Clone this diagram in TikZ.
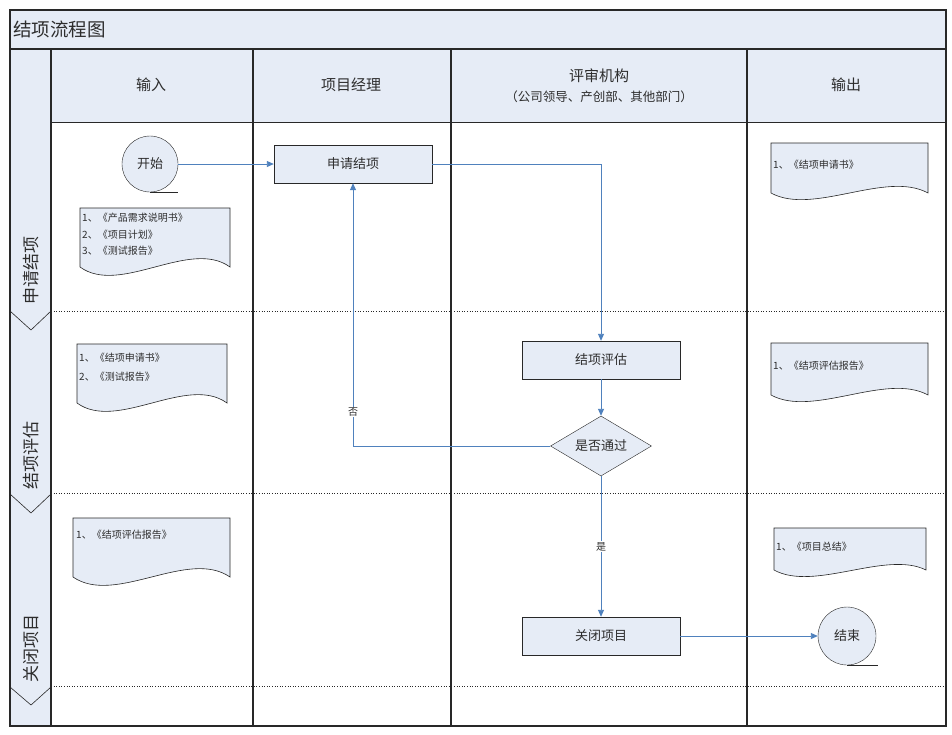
\documentclass[tikz,border=0pt]{standalone}
\usepackage{fontspec}
\setmainfont{Noto Sans CJK SC}
\usetikzlibrary{shapes.geometric,arrows.meta}
\definecolor{lb}{RGB}{230,236,246}
\definecolor{ab}{RGB}{79,129,189}
\definecolor{tx}{RGB}{45,45,45}
\definecolor{ln}{RGB}{40,40,40}
\begin{document}
\begin{tikzpicture}[x=1pt,y=-1pt,
  box/.style={draw=ln, fill=lb, minimum width=158pt, minimum height=38pt, inner sep=0, font=\fontsize{13}{15}\selectfont, text=tx},
  term/.style={circle, draw=ln, fill=lb, minimum size=56pt, inner sep=0, font=\fontsize{13}{15}\selectfont, text=tx},
  dec/.style={diamond, draw=ln, fill=lb, minimum width=101pt, minimum height=60pt, inner sep=0, aspect=1.7, font=\fontsize{13}{15}\selectfont, text=tx},
  arr/.style={draw=ab, line width=0.9pt, -{Triangle[length=7pt,width=6pt]}},
  docshape/.style={draw=ln, fill=lb, line width=0.6pt},
  doctext/.style={anchor=north west, align=left, font=\fontsize{10}{17.5}\selectfont, inner sep=0, text=tx},
  hdr/.style={font=\fontsize{15}{18}\selectfont, text=tx},
  lane/.style={rotate=90, font=\fontsize{17}{17}\selectfont, text=tx},
  frame/.style={draw=ln, line width=1.1pt},
  sep/.style={draw=ln, line width=0.6pt, dotted},
  lbl/.style={fill=white, inner sep=1pt, font=\fontsize{10}{12}\selectfont, text=tx}]
\useasboundingbox (0,0) rectangle (952,734);
% backgrounds
\fill[white] (10,10) rectangle (946,726);
\fill[lb] (10,10) rectangle (946,49);
\fill[lb] (51,49) rectangle (946,122);
\fill[lb] (10,49) rectangle (51,726);
% row separators
\draw[sep] (51,311) -- (946,311);
\draw[sep] (51,493) -- (946,493);
\draw[sep] (51,686) -- (946,686);
% frame lines
\draw[frame] (10,10) rectangle (946,726);
\draw[frame] (10,49) -- (946,49);
\draw[draw=ln, line width=0.8pt] (51,122) -- (946,122);
\foreach \x in {51,253,451,747} \draw[frame] (\x,49) -- (\x,726);
% chevrons
\draw[ln, line width=0.6pt] (10,311) -- (31,330) -- (51,311);
\draw[ln, line width=0.6pt] (10,494) -- (31,513) -- (51,494);
\draw[ln, line width=0.6pt] (10,687) -- (31,705) -- (51,687);
% title and headers
\node[anchor=west, font=\fontsize{18.5}{19}\selectfont, text=tx, inner sep=0] (title) at (13,29) {结项流程图};
\node[hdr] (h1) at (151,85) {输入};
\node[hdr] (h2) at (351,85) {项目经理};
\node[hdr] (h3) at (599,76) {评审机构};
\node[font=\fontsize{12.5}{14}\selectfont, text=tx] (h3b) at (599,97) {（公司领导、产创部、其他部门）};
\node[hdr] (h4) at (846,85) {输出};
% lane labels
\node[lane] (l1) at (31,270) {申请结项};
\node[lane] (l2) at (31,455) {结项评估};
\node[lane] (l3) at (31,648) {关闭项目};
% documents
\draw[docshape] (80,208) -- (230,208) -- (230,267) .. controls (190,238) and (120,296) .. (80,267) -- cycle;
\node[doctext, font=\fontsize{10}{16.5}\selectfont] (d1) at (82,213) {1、《产品需求说明书》\\2、《项目计划》\\3、《测试报告》};
\draw[docshape] (77,344) -- (227,344) -- (227,403) .. controls (187,374) and (117,432) .. (77,403) -- cycle;
\node[doctext, font=\fontsize{10}{19}\selectfont] (d2) at (79,353) {1、《结项申请书》\\2、《测试报告》};
\draw[docshape] (73,518) -- (230,518) -- (230,577) .. controls (188,548) and (115,606) .. (73,577) -- cycle;
\node[doctext] (d3) at (76,530) {1、《结项评估报告》};
\draw[docshape] (771,143) -- (928,143) -- (928,193) .. controls (886,170) and (813,216) .. (771,193) -- cycle;
\node[doctext] (o1) at (773,160) {1、《结项申请书》};
\draw[docshape] (771,343) -- (928,343) -- (928,395) .. controls (886,372) and (813,418) .. (771,395) -- cycle;
\node[doctext] (o2) at (773,361) {1、《结项评估报告》};
\draw[docshape] (774,528) -- (926,528) -- (926,570) .. controls (886,550) and (814,592) .. (774,570) -- cycle;
\node[doctext] (o3) at (776,542) {1、《项目总结》};
% flow nodes
\node[term] (start) at (150,164) {开始};
\draw[ln, line width=1pt] (start.south) -- ++(28,0);
\node[box] (apply) at (353,164) {申请结项};
\node[box] (eval) at (601,360) {结项评估};
\node[dec] (chk) at (601,446) {是否通过};
\node[box] (close) at (601,636) {关闭项目};
\node[term, minimum size=58pt] (end) at (847,636) {结束};
\draw[ln, line width=1pt] (end.south) -- ++(31,0);
% connectors
\draw[arr] (start.east) -- (apply.west);
\draw[arr] (apply.east) -| (eval.north);
\draw[arr] (eval.south) -- (chk.north);
\draw[arr] (chk.west) -| (apply.south) node[lbl, pos=0.565] {否};
\draw[arr] (chk.south) -- (close.north) node[lbl, midway] {是};
\draw[arr] (close.east) -- (end.west);
\end{tikzpicture}
\end{document}
